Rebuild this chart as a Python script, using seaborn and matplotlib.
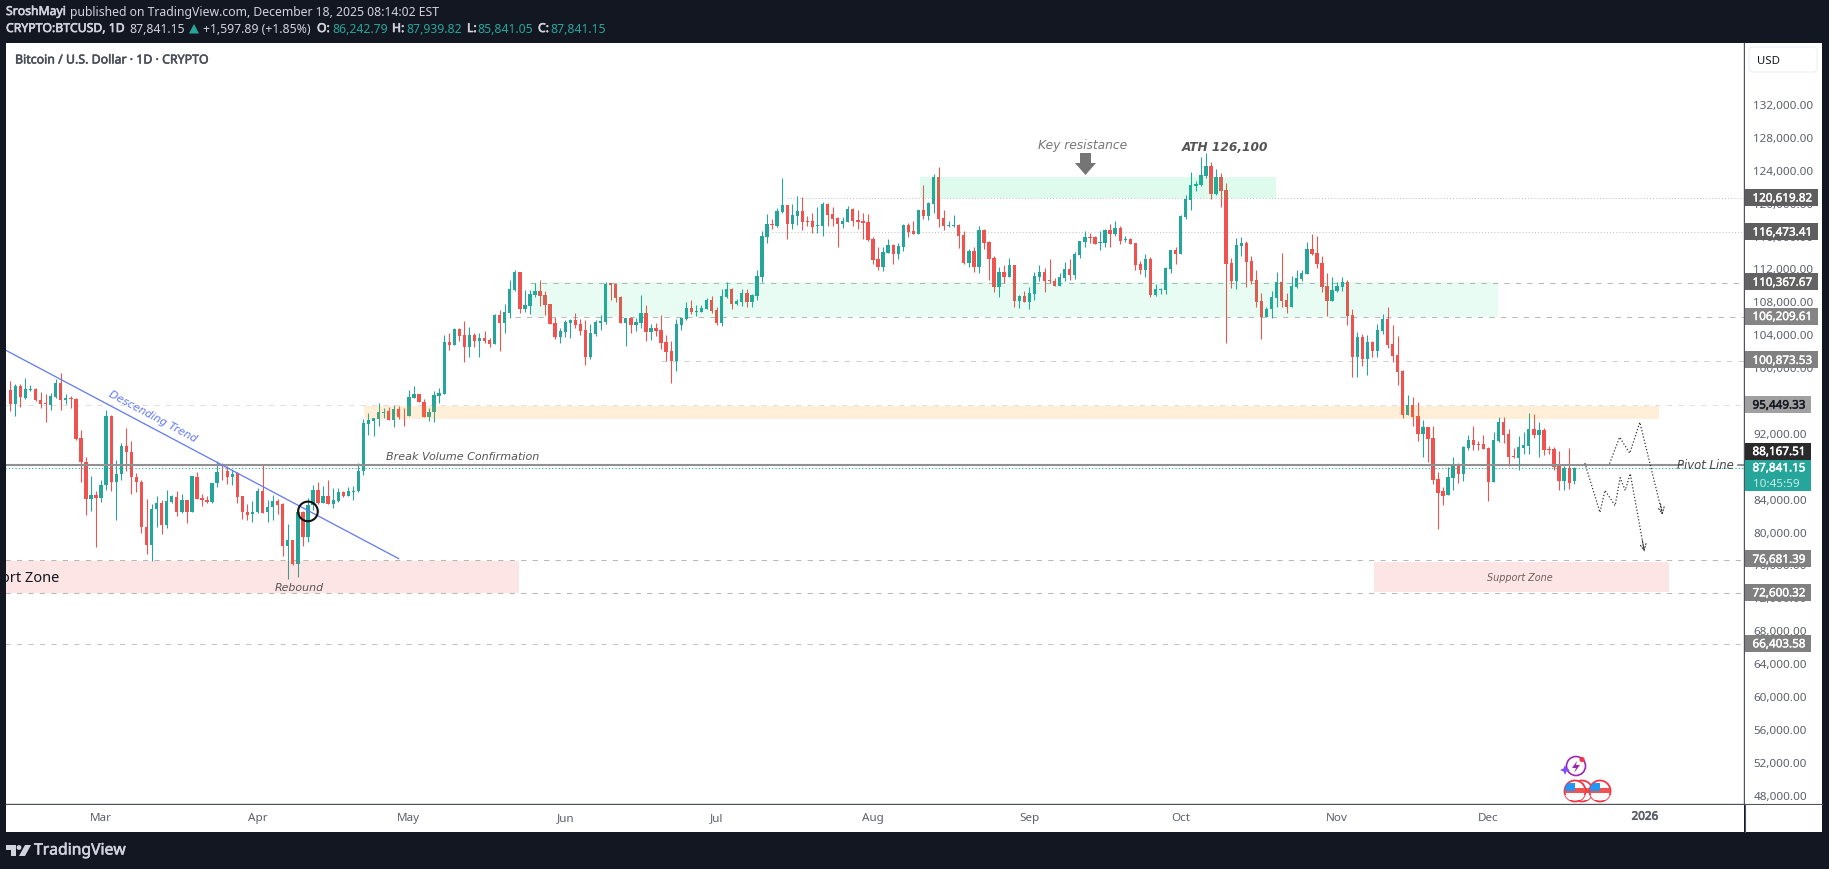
#!/usr/bin/env python3
"""BTCUSD daily candles with hand drawn levels, TradingView look."""

import matplotlib
matplotlib.use("Agg")
import matplotlib.patheffects as pe
import matplotlib.pyplot as plt
import pandas as pd
import seaborn as sns
from matplotlib.patches import Circle, Polygon, Rectangle, FancyBboxPatch
from matplotlib.transforms import Affine2D

opens = [
    97330, 95630, 97820, 96320, 97330, 97460, 96120, 95750, 95510, 96400,
    98190, 96040, 96360, 96240, 91500, 88580, 84000, 84570, 84160, 85780,
    94170, 86070, 87040, 90520, 89800, 86760, 86150, 80630, 78410, 82780,
    83590, 80920, 83720, 84320, 82420, 83960, 82500, 86760, 84190, 83960,
    83630, 85950, 87360, 87400, 86760, 87200, 84360, 82500, 82180, 82420,
    85050, 82420, 83030, 83840, 83470, 78290, 79090, 76100, 82500, 79380,
    83350, 85170, 83550, 84450, 83470, 83840, 84930, 84360, 84930, 84970,
    87400, 93200, 93560, 93810, 94540, 94700, 93610, 95020, 94170, 94090,
    96360, 96850, 95880, 94050, 94580, 96610, 96850, 103170, 102810, 104750,
    103980, 102560, 103980, 103290, 103660, 103420, 102930, 106450, 105480, 106700,
    109490, 111680, 107180, 107550, 108890, 109370, 108890, 107790, 105480, 103780,
    104390, 105480, 105850, 105360, 104630, 101350, 104140, 105480, 105600, 110300,
    110220, 108640, 105480, 106090, 105240, 105480, 106700, 104390, 104870, 104630,
    103170, 102080, 100860, 105240, 105970, 107300, 106820, 106820, 107180, 108280,
    107060, 105480, 108640, 109620, 107790, 108030, 109130, 108030, 108760, 111080,
    115940, 117520, 117280, 118980, 119830, 117520, 118490, 119100, 117880, 117880,
    117280, 117280, 119950, 118740, 118250, 117520, 117760, 119340, 118010, 117880,
    117760, 115700, 113260, 112290, 113990, 114970, 113870, 114720, 117400, 116670,
    116300, 119220, 118490, 119950, 123240, 118250, 117280, 117280, 117400, 116180,
    112780, 114240, 112290, 116790, 115330, 113390, 109860, 111680, 111080, 112540,
    108160, 108770, 108040, 109010, 111080, 111680, 110710, 110590, 109980, 110950,
    112050, 111320, 113750, 115330, 115940, 115940, 115210, 115210, 116790, 116300,
    117040, 115580, 115700, 115210, 112660, 111930, 113260, 108890, 109500, 109500,
    112050, 114360, 113870, 118370, 120440, 122140, 122260, 123360, 124570, 121170,
    123240, 121650, 112780, 110590, 114840, 115210, 113020, 110710, 108160, 106210,
    107180, 108520, 110470, 108280, 107430, 109860, 110830, 111440, 114480, 113990,
    112780, 109980, 108160, 109370, 109860, 110470, 106450, 101350, 103780, 101100,
    103170, 102080, 104510, 105970, 102930, 101590, 99640, 94300, 95510, 94170,
    91990, 92840, 91500, 86510, 85050, 84570, 86640, 88220, 87120, 90280,
    91260, 90770, 90770, 90280, 86150, 91130, 93440, 91990, 89310, 89070,
    90280, 90530, 92590, 91860, 92470, 90160, 90160, 88090, 86270, 87850, 86243,
]
highs = [
    98350, 98060, 98060, 98750, 97940, 97540, 97010, 96850, 96930, 98630,
    99360, 96810, 96520, 96320, 92470, 89150, 86880, 84970, 86390, 94900,
    94290, 88820, 90850, 92670, 91130, 87200, 86310, 84040, 83470, 84360,
    83960, 85170, 84570, 84970, 84610, 83960, 86880, 87320, 84650, 84450,
    86030, 88620, 88420, 88010, 87600, 87280, 84450, 83470, 83840, 85380,
    88300, 83960, 84570, 84040, 83550, 81040, 79090, 83230, 82540, 84160,
    85780, 86070, 85580, 86390, 85380, 85380, 85050, 85500, 85580, 88420,
    93810, 94540, 93930, 95750, 95150, 95230, 95510, 95350, 95150, 97340,
    97820, 96850, 96240, 95150, 97220, 97580, 103980, 104220, 104870, 104830,
    105720, 104960, 104270, 104270, 104510, 103660, 106580, 107060, 107790, 110710,
    111930, 111680, 109490, 109490, 110350, 110710, 109370, 107790, 106170, 104870,
    105850, 105970, 106700, 105970, 105850, 105360, 105850, 106450, 110470, 110340,
    110340, 108760, 106090, 106210, 106090, 108890, 107670, 105360, 105480, 106450,
    103980, 103290, 105930, 106210, 108030, 108280, 107670, 107670, 108520, 108760,
    107430, 109620, 110470, 109740, 108400, 109620, 109620, 109010, 111930, 116670,
    118740, 118130, 119470, 123110, 119830, 119950, 120920, 120800, 118490, 118860,
    119590, 120200, 120070, 119590, 118370, 118370, 119710, 119470, 119220, 118860,
    118740, 115940, 114720, 114720, 115700, 115090, 115210, 117520, 117640, 117880,
    119220, 122260, 120200, 123600, 124450, 119220, 117880, 118610, 117520, 116670,
    114480, 114720, 117280, 116910, 115450, 113630, 112290, 112540, 113390, 112540,
    108890, 109370, 109860, 111680, 112540, 112170, 113260, 110950, 111560, 112900,
    113260, 114110, 115450, 116670, 116430, 116060, 116670, 116910, 117520, 117880,
    117280, 116060, 115820, 115210, 113020, 113870, 113510, 110220, 109740, 112290,
    114360, 114720, 118610, 121050, 123840, 122750, 125670, 126150, 125060, 124210,
    123720, 122510, 113390, 115820, 115940, 115450, 113630, 111930, 109130, 107430,
    109370, 111680, 114000, 109130, 111200, 111930, 111930, 115330, 116300, 116060,
    113630, 111560, 111080, 110470, 111080, 110710, 107180, 104390, 104140, 104020,
    103290, 105360, 106580, 107430, 105240, 103900, 99760, 96730, 96480, 95880,
    93690, 92840, 92960, 87360, 85540, 87970, 89190, 88460, 90530, 91860,
    92960, 91130, 91860, 90410, 92230, 94050, 94050, 92590, 90280, 91740,
    92230, 94540, 94420, 93440, 92710, 90530, 90410, 89920, 88090, 90280, 87940,
]
lows = [
    94780, 94090, 95230, 96200, 97210, 95960, 95110, 93360, 94900, 96320,
    94820, 95590, 95110, 91250, 86070, 82130, 82540, 78160, 83630, 85090,
    84970, 81450, 86310, 87400, 84690, 84930, 79910, 77390, 76540, 80590,
    79820, 80510, 83550, 81930, 82340, 81120, 82420, 84080, 83150, 83550,
    83550, 85460, 86310, 85820, 85780, 83550, 81610, 81530, 81200, 82340,
    82340, 81200, 81530, 82260, 77070, 74350, 76050, 74560, 78370, 78850,
    82740, 83470, 83550, 83470, 82940, 83720, 84280, 84360, 83960, 84930,
    86990, 91860, 91660, 92880, 93850, 93610, 92750, 93770, 92880, 94090,
    96360, 95800, 94050, 93480, 93360, 95750, 96850, 102200, 102810, 103290,
    100740, 101350, 102560, 101350, 103010, 102560, 102930, 102080, 104230, 106090,
    109370, 106700, 106820, 106580, 108640, 107550, 106450, 105360, 103540, 103050,
    103780, 103660, 104870, 104020, 100380, 101100, 103900, 104630, 105360, 108280,
    108030, 105480, 102690, 104270, 104510, 104870, 103290, 103410, 103900, 102320,
    100860, 98190, 99650, 104630, 105850, 106580, 106330, 106820, 107180, 106700,
    105240, 105120, 108520, 107180, 107670, 107550, 107430, 107430, 108280, 110470,
    115210, 116910, 117160, 118860, 115700, 116910, 117400, 116790, 117280, 116430,
    116430, 116060, 117280, 117280, 114720, 117040, 117760, 117280, 116910, 115700,
    115450, 112660, 111930, 111810, 113990, 112660, 113260, 114240, 115940, 116300,
    116300, 118130, 118010, 118860, 117160, 116790, 117160, 117160, 114600, 112660,
    112290, 111680, 111560, 114480, 110710, 109250, 108640, 110350, 111080, 107430,
    107300, 108040, 107190, 108280, 110590, 109250, 110350, 109980, 109980, 110590,
    110710, 110830, 113390, 114720, 115210, 115090, 114360, 114720, 114720, 116060,
    115090, 115330, 115090, 111930, 111440, 111080, 108640, 108760, 109010, 109010,
    111560, 112660, 113870, 118130, 119220, 121530, 122140, 123110, 120560, 121050,
    119590, 103050, 109740, 109620, 113630, 109860, 110220, 107430, 103540, 106210,
    106090, 107430, 107430, 106700, 107430, 109740, 110590, 111440, 113750, 112170,
    109250, 106330, 108160, 109250, 109370, 105240, 98920, 98920, 100250, 99160,
    101350, 101350, 104140, 102440, 100740, 97940, 93930, 94300, 92960, 91130,
    89190, 88580, 85910, 80430, 83350, 84570, 85180, 86030, 86270, 90040,
    90040, 90040, 90160, 83840, 86150, 91010, 90890, 88090, 89070, 87610,
    89550, 89550, 91500, 89190, 89430, 89550, 87610, 85180, 85180, 85300, 85841,
]
closes = [
    95630, 97820, 96400, 97460, 97460, 96040, 95630, 95550, 96520, 98190,
    96040, 96360, 96160, 91380, 88500, 84000, 84570, 84120, 85780, 94170,
    86070, 87080, 90520, 89710, 86680, 86100, 80590, 78410, 82860, 83550,
    80920, 83800, 84360, 82420, 83960, 82500, 86800, 84080, 83880, 83630,
    86030, 87360, 87280, 86760, 87080, 84240, 82420, 82130, 82460, 85050,
    82340, 83110, 83840, 83350, 78290, 79090, 76100, 82460, 79380, 83350,
    85170, 83550, 84450, 83470, 83960, 84930, 84360, 85050, 85050, 87480,
    93280, 93690, 93930, 94660, 94660, 93610, 95020, 94050, 94090, 96480,
    96850, 95800, 94050, 94660, 96730, 96970, 103170, 102810, 104750, 103900,
    102560, 103980, 103290, 103660, 103290, 102930, 106450, 105480, 106820, 109620,
    111680, 107180, 107670, 109010, 109370, 108760, 107670, 105360, 103780, 104510,
    105600, 105850, 105240, 104510, 101350, 104270, 105600, 105720, 110220, 110100,
    108520, 105480, 106090, 105240, 105600, 106700, 104390, 104870, 104510, 103050,
    101960, 100860, 105360, 106090, 107300, 106820, 106940, 107300, 108280, 106940,
    105480, 108760, 109620, 107790, 108160, 109130, 108030, 108890, 111200, 115980,
    117520, 117400, 119100, 119830, 117520, 118610, 119100, 117760, 117760, 117150,
    117400, 119950, 118610, 118130, 117520, 117880, 119340, 117880, 117760, 117640,
    115580, 113140, 112290, 114110, 114970, 113870, 114840, 117400, 116550, 116300,
    119220, 118490, 120070, 123240, 118130, 117280, 117400, 117400, 116060, 112740,
    114240, 112290, 116790, 115210, 113260, 109860, 111680, 111080, 112540, 108160,
    108770, 108040, 109130, 111200, 111680, 110590, 110590, 109980, 111080, 112050,
    111320, 113870, 115450, 115940, 115820, 115090, 115330, 116790, 116300, 117040,
    115450, 115700, 115090, 112540, 111930, 113260, 108890, 109620, 109620, 112170,
    114360, 113870, 118490, 120560, 122260, 122380, 123480, 124570, 121170, 123240,
    121530, 112660, 110590, 114970, 115210, 112900, 110590, 108040, 106210, 107180,
    108640, 110470, 108160, 107430, 109980, 110950, 111560, 114480, 113870, 112660,
    109860, 108160, 109490, 109980, 110470, 106330, 101350, 103780, 101100, 103170,
    102080, 104630, 105970, 102810, 101470, 99520, 94300, 95510, 94050, 91990,
    92840, 91380, 86390, 84810, 84450, 86760, 88220, 87120, 90410, 91260,
    90650, 90650, 90160, 86150, 91260, 93440, 91860, 89190, 89190, 90410,
    90650, 92590, 91860, 92470, 90040, 90040, 87970, 86270, 87850, 86030, 87841,
]

# hand drawn levels and zones
price_ticks = list(range(132000, 47000, -4000))
month_starts = ["2025-03-01", "2025-04-01", "2025-05-01", "2025-06-01", "2025-07-01",
                "2025-08-01", "2025-09-01", "2025-10-01", "2025-11-01", "2025-12-01", "2026-01-01"]
month_labels = ["Mar", "Apr", "May", "Jun", "Jul", "Aug", "Sep", "Oct", "Nov", "Dec", "2026"]
level_prices = [120619.82, 116473.41, 110367.67, 106209.61, 100873.53, 95449.33, 76681.39, 72600.32, 66403.58]
level_start_days = [154, 151, 103, 100, 129, -1, -1, -1, -1]
pivot_price = 88167.51
last_price = 87841.15
zone_days = [(180.3, 250.9), (103.2, 294.9), (70.1, 326.8), (-1, 100.8), (270.3, 328.8)]
zone_prices = [(120620, 123230), (106170, 110370), (93800, 95400), (72600, 76500), (72680, 76330)]
trend_days = [-0.85, 77]
trend_prices = [102110, 76780]
forecast_a_days = [317, 319, 321, 323, 327.5]
forecast_a_prices = [88340, 91560, 89610, 93360, 82130]
forecast_b_days = [312.1, 315.1, 316.1, 318.1, 319.1, 320.1, 321.1, 323.9]
forecast_b_prices = [88400, 82410, 85090, 83230, 86630, 85090, 87120, 77670]
breakout_day = 59
breakout_price = 82530

W, H = 1829, 870
BG = "#131722"
UP = "#26a69a"
DOWN = "#ef5350"
FONT = ["Noto Sans", "DejaVu Sans"]
START = pd.Timestamp("2025-02-11")

sns.set_style("white")
plt.rcParams["font.family"] = FONT

df = pd.DataFrame({"open": opens, "high": highs, "low": lows, "close": closes})
df["date"] = pd.date_range(START, periods=len(df))
df["color"] = [UP if c >= o else DOWN for o, c in zip(df["open"], df["close"])]


def day(n):
    return START + pd.to_timedelta(n, unit="D")


def heavy(color, width=0.45):
    # Noto Sans comes out regular only here, so thicken by stroke
    return [pe.withStroke(linewidth=width, foreground=color)]


fig = plt.figure(figsize=(W / 100, H / 100), dpi=100, facecolor=BG)
px = Affine2D().scale(1, -1).translate(0, H)


def frame(x0, y0, x1, y1):
    return [x0 / W, 1 - y1 / H, (x1 - x0) / W, (y1 - y0) / H]


def txt(x, y, s, **kw):
    kw.setdefault("va", "center")
    return fig.text(x, y, s, transform=px, **kw)


ax = fig.add_axes(frame(6, 44, 1744, 805), facecolor="white")
ax_r = fig.add_axes(frame(1745, 44, 1822, 805), facecolor="white")
ax_b = fig.add_axes(frame(6, 806, 1744, 833), facecolor="white")
ax_c = fig.add_axes(frame(1745, 806, 1822, 833), facecolor="white")

ylim = (46869, 139413)
pane_ylim = (46949, 139493)
xlim = (day(-0.854), day(343.65))

# candles
ax.vlines(df["date"], df["low"], df["high"], colors=df["color"], lw=0.78, zorder=2)
ax.bar(df["date"], (df["close"] - df["open"]).abs().clip(lower=80), bottom=df[["open", "close"]].min(axis=1),
       width=0.66, color=df["color"], lw=0, zorder=2)

# zones sit over the candles, that is how they look tinted
zone_colors = [("#00e676", 0.125), ("#00e676", 0.085), ("#ff9800", 0.15), ("#ef5350", 0.15), ("#ef5350", 0.15)]
for (d0, d1), (p0, p1), (c, a) in zip(zone_days, zone_prices, zone_colors):
    ax.fill_between([day(d0), day(d1)], p0, p1, color=c, alpha=a, lw=0, zorder=3)

# levels
DOT = (0, (1, 2))
DASH = (0, (5, 6))
level_styles = [(DOT, "#c4c4c4"), (DOT, "#c4c4c4"), (DASH, "#b8b8b8"), (DASH, "#b8b8b8"), (DASH, "#cfcfcf"),
                (DASH, "#e0e0e0"), (DASH, "#b8b8b8"), (DASH, "#b8b8b8"), (DASH, "#c4c4c4")]
for p, d0, (ls, c) in zip(level_prices, level_start_days, level_styles):
    sns.lineplot(x=[day(d0), day(344)], y=[p, p], ax=ax, color=c, lw=0.75, linestyle=ls, zorder=1.5, errorbar=None)

sns.lineplot(x=[day(-1), day(331.5)], y=[pivot_price, pivot_price], ax=ax, color="#919191", lw=1.5, zorder=2.5, errorbar=None)
sns.lineplot(x=[day(342.5), day(344)], y=[pivot_price, pivot_price], ax=ax, color="#919191", lw=1.5, zorder=2.5, errorbar=None)
sns.lineplot(x=[day(-1), day(344)], y=[last_price, last_price], ax=ax, color=UP, lw=0.8, linestyle=DOT, zorder=2.6, errorbar=None)

# trend line and breakout ring
sns.lineplot(x=[day(d) for d in trend_days], y=trend_prices, ax=ax, color="#6178f5", lw=0.9, zorder=4, errorbar=None)
sns.scatterplot(x=[day(breakout_day)], y=[breakout_price], ax=ax, s=200, facecolor="none", edgecolor="#111111",
                linewidth=1.5, zorder=5)

# projected paths
for days, prices in [(forecast_a_days, forecast_a_prices), (forecast_b_days, forecast_b_prices)]:
    sns.lineplot(x=[day(d) for d in days], y=prices, ax=ax, color="#333333", lw=0.9, linestyle=(0, (1, 1.6)), zorder=4,
                 errorbar=None, sort=False)
    ax.annotate("", xy=(day(days[-1]), prices[-1]), xytext=(day(days[-1] - 0.4), prices[-1] + 1300),
                arrowprops=dict(arrowstyle="->", color="#333333", lw=0.8, ls=":", shrinkA=0, shrinkB=0, mutation_scale=11),
                zorder=4)

ax.set_xlim(*xlim)
ax.set_ylim(*pane_ylim)
ax.set_xticks([])
ax.set_yticks([])
ax.set_xlabel("")
ax.set_ylabel("")

# clipped label at the left edge of the pane
ax.text(day((59 - 10.3) / 5.045), 48000 + (795.7 - 577.7) * 121.6, "Support Zone", ha="right", va="center",
        fontsize=10.5, color="#131722", clip_on=True, zorder=6)

GREY_TEXT = "#555555"
OBL = ["DejaVu Sans"]
txt(1083, 145.5, "Key resistance", ha="center", color="#777777", fontsize=8.8, style="italic", family=OBL)
txt(1225, 148, "ATH 126,100", ha="center", color="#555555", fontsize=8.7, style="italic", weight="bold", family=OBL)
txt(386, 457, "Break Volume Confirmation", color=GREY_TEXT, fontsize=8.05, style="italic", family=OBL)
txt(299, 588.5, "Rebound", ha="center", color=GREY_TEXT, fontsize=7.9, style="italic", family=OBL)
txt(1520, 578, "Support Zone", ha="center", color="#6f5f5f", fontsize=6.9, style="italic", family=OBL)
txt(1705, 466, "Pivot Line", ha="center", color="#444444", fontsize=8.4, style="italic", family=OBL)
txt(153, 417, "Descending Trend", ha="center", color="#6178f5", fontsize=7.8, style="italic", family=OBL, rotation=-28,
    rotation_mode="anchor")

# key resistance arrow
fig.add_artist(Polygon([(1080, 154), (1091, 154), (1091, 164), (1096, 164), (1085.5, 176), (1075, 164), (1080, 164)],
                       closed=True, transform=px, facecolor="#757575", edgecolor="none"))

# price scale
ax_r.set_ylim(*ylim)
ax_r.set_xlim(0, 77)
ax_r.set_xticks([])
ax_r.set_yticks(price_ticks)
ax_r.set_yticklabels([f"{t:,.2f}" for t in price_ticks], ha="left", color="#5d606b", fontsize=8.4)
ax_r.tick_params(axis="y", length=0, pad=-6, labelleft=True)

tag_colors = ["#5e5e5e", "#5e5e5e", "#636363", "#858585", "#808080", "#a0a0a0", "#808080", "#808080", "#808080"]
tag_widths = [73, 73, 73, 73, 73, 66, 66, 66, 66]
tag_text = ["white"] * 5 + ["#131722"] + ["white"] * 3
tag_h = 2067
for p, c, w, tc in zip(level_prices, tag_colors, tag_widths, tag_text):
    ax_r.add_patch(Rectangle((0, p - tag_h / 2), w, tag_h, facecolor=c, edgecolor="none", zorder=5))
    ax_r.text(7.5, p, f"{p:,.2f}", color=tc, fontsize=8.4, va="center_baseline", zorder=6, path_effects=heavy(tc, 0.3))

# the pivot and last price tags are pushed apart by the scale, so they sit off their lines
ax_r.add_patch(Rectangle((0, 88736), 66, 2029, facecolor="#2a2a2a", edgecolor="none", zorder=5))
ax_r.text(7.5, 89793, f"{pivot_price:,.2f}", color="white", fontsize=8.4, va="center_baseline", zorder=6,
          path_effects=heavy("white", 0.35))
ax_r.add_patch(Rectangle((0, 84966), 66, 3770, facecolor=UP, edgecolor="none", zorder=5.5))
ax_r.text(7.5, 87812, f"{last_price:,.2f}", color="white", fontsize=8.4, va="center_baseline", zorder=6,
          path_effects=heavy("white", 0.35))
ax_r.text(7.5, 86061, "10:45:59", color="#c9ebe7", fontsize=8.4, va="center_baseline", zorder=6)

fig.add_artist(FancyBboxPatch((1749, 48), 68, 25, boxstyle="round,pad=0,rounding_size=4", transform=px,
                              facecolor="white", edgecolor="#f0f3fa", lw=1))
txt(1757, 61.5, "USD", color="#131722", fontsize=8.2)

# time scale
ax_b.set_xlim(*xlim)
ax_b.set_ylim(0, 1)
ax_b.set_yticks([])
ax_b.set_xticks(pd.to_datetime(month_starts))
ax_b.set_xticklabels(month_labels, color="#5d606b", fontsize=8.4)
ax_b.tick_params(axis="x", length=0, pad=-14.6)
ax_b.get_xticklabels()[-1].set_path_effects(heavy("#5d606b", 0.5))
ax_c.set_xticks([])
ax_c.set_yticks([])

for a in (ax, ax_r, ax_b, ax_c):
    for s in a.spines.values():
        s.set_visible(False)
ax.spines["bottom"].set_visible(True)
ax.spines["bottom"].set_color("#50535e")
ax.spines["bottom"].set_linewidth(1.0)
ax.spines["right"].set_visible(True)
ax.spines["right"].set_color("#50535e")
ax.spines["right"].set_linewidth(1.0)
ax_r.spines["bottom"].set_visible(True)
ax_r.spines["bottom"].set_color("#50535e")
ax_c.spines["left"].set_visible(True)
ax_c.spines["left"].set_color("#50535e")

# header
HEAD = "#d1d4dc"
NUM = "#26a69a"
FS = 8.8
txt(6, 12.5, "SroshMayi", color=HEAD, fontsize=FS, path_effects=heavy(HEAD))
txt(70, 12.5, "published on TradingView.com, December 18, 2025 08:14:02 EST", color=HEAD, fontsize=FS)
txt(6, 29.5, "CRYPTO:BTCUSD, 1D", color=HEAD, fontsize=FS, path_effects=heavy(HEAD))
txt(129, 29.5, "87,841.15", color=HEAD, fontsize=FS)
fig.add_artist(Polygon([(189, 34.5), (194, 25), (199, 34.5)], closed=True, transform=px, facecolor=NUM, edgecolor="none"))
txt(203, 29.5, "+1,597.89 (+1.85%)", color=HEAD, fontsize=FS)
for x, s in [(317, "O:"), (392, "H:"), (467, "L:"), (538, "C:")]:
    txt(x, 29.5, s, color=HEAD, fontsize=FS, path_effects=heavy(HEAD))
for x, s in [(332, "86,242.79"), (406, "87,939.82"), (477, "85,841.05"), (550, "87,841.15")]:
    txt(x, 29.5, s, color=NUM, fontsize=FS)
txt(15, 61, "Bitcoin / U.S. Dollar · 1D · CRYPTO", color="#4a4e5a", fontsize=8.9, path_effects=heavy("#4a4e5a", 0.4))

# footer logo
logo = "#d1d4dc"
fig.add_artist(Polygon([(6, 846), (16, 846), (16, 857), (11, 857), (11, 851), (6, 851)], closed=True, transform=px,
                       facecolor=logo, edgecolor="none"))
fig.add_artist(Circle((19, 848.5), 2.4, transform=px, facecolor=logo, edgecolor="none"))
fig.add_artist(Polygon([(25, 846), (31, 846), (25, 857), (19, 857)], closed=True, transform=px, facecolor=logo, edgecolor="none"))
txt(34, 851.5, "TradingView", color=logo, fontsize=11.3, path_effects=heavy(logo, 0.4))

# event icons at the bottom of the pane
fig.add_artist(Circle((1576, 767), 9.5, transform=px, facecolor="white", edgecolor="#9c27b0", lw=1.2))
fig.add_artist(Polygon([(1577, 762), (1572, 769), (1576, 769), (1574, 774), (1580, 766), (1576, 766)], closed=True,
                       transform=px, facecolor="#9c27b0", edgecolor="none"))
fig.add_artist(Circle((1582, 760.5), 2.6, transform=px, facecolor="#f23645", edgecolor="none"))
fig.add_artist(Polygon([(1565, 766), (1566.5, 769.5), (1570, 771), (1566.5, 772.5), (1565, 776), (1563.5, 772.5),
                        (1560, 771), (1563.5, 769.5)], closed=True, transform=px, facecolor="#7c4dff", edgecolor="none"))
for cx in (1582, 1575, 1600):
    ring = Circle((cx, 792), 10.5, transform=px, facecolor="white", edgecolor="#f23645", lw=1.3)
    fig.add_artist(ring)
    for rect, col in [((cx - 10, 789), "#ef5350"), ((cx - 10, 796), "white")]:
        band = Rectangle(rect, 20, 4.5, transform=px, facecolor=col, edgecolor="none")
        fig.add_artist(band)
        band.set_clip_path(ring)
    top = Rectangle((cx - 10, 784), 10, 7.5, transform=px, facecolor="#2196f3", edgecolor="none")
    fig.add_artist(top)
    top.set_clip_path(ring)

fig.savefig("out.png", dpi=100, facecolor=BG)
